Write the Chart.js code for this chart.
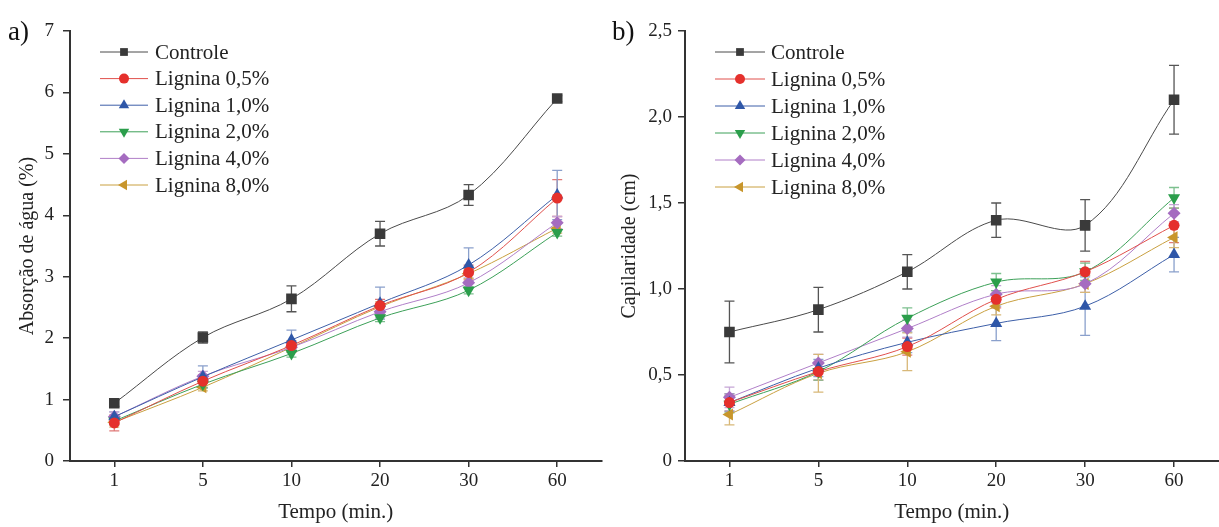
<!DOCTYPE html>
<html>
<head>
<meta charset="utf-8">
<script src="https://cdn.jsdelivr.net/npm/chart.js@4/dist/chart.umd.min.js"></script>
<style>
  html, body { margin: 0; padding: 0; background: #fff; overflow: hidden; }
  #wrap { position: relative; width: 1219px; height: 527px; overflow: hidden; }
  .box { position: absolute; top: 0; height: 527px; }
  #boxA { left: 0; width: 609px; }
  #boxB { left: 609px; width: 617px; }
</style>
</head>
<body>
<div id="wrap">
  <div class="box" id="boxA"><canvas id="chartA"></canvas></div>
  <div class="box" id="boxB"><canvas id="chartB"></canvas></div>
</div>
<script>
// categories (minutes)
const categories = ['1', '5', '10', '20', '30', '60'];
const seriesNames = ['Controle', 'Lignina 0,5%', 'Lignina 1,0%', 'Lignina 2,0%', 'Lignina 4,0%', 'Lignina 8,0%'];

// a) Absorção de água (%)
const absControle = [0.94, 2.01, 2.64, 3.70, 4.33, 5.90];
const abs05 = [0.62, 1.30, 1.88, 2.53, 3.07, 4.28];
const abs10 = [0.72, 1.37, 1.97, 2.57, 3.19, 4.33];
const abs20 = [0.65, 1.25, 1.75, 2.33, 2.78, 3.72];
const abs40 = [0.72, 1.38, 1.85, 2.43, 2.90, 3.88];
const abs80 = [0.63, 1.20, 1.85, 2.51, 3.05, 3.79];

const absControleErr = [0.05, 0.09, 0.21, 0.20, 0.17, 0.05];
const abs05Err = [0.13, 0.10, 0.08, 0.10, 0.12, 0.30];
const abs10Err = [0.08, 0.18, 0.16, 0.26, 0.28, 0.40];
const abs20Err = [0.06, 0.06, 0.06, 0.06, 0.06, 0.06];
const abs40Err = [0.08, 0.08, 0.08, 0.10, 0.08, 0.10];
const abs80Err = [0.08, 0.06, 0.08, 0.08, 0.08, 0.08];

// b) Capilaridade (cm)
const capControle = [0.75, 0.88, 1.10, 1.40, 1.37, 2.10];
const cap05 = [0.34, 0.52, 0.665, 0.94, 1.10, 1.37];
const cap10 = [0.34, 0.54, 0.69, 0.80, 0.90, 1.20];
const cap20 = [0.33, 0.52, 0.83, 1.04, 1.10, 1.53];
const cap40 = [0.37, 0.57, 0.77, 0.97, 1.03, 1.44];
const cap80 = [0.27, 0.51, 0.635, 0.90, 1.03, 1.30];

const capControleErr = [0.18, 0.13, 0.10, 0.10, 0.15, 0.20];
const cap05Err = [0.05, 0.05, 0.05, 0.05, 0.06, 0.10];
const cap10Err = [0.05, 0.05, 0.06, 0.10, 0.17, 0.10];
const cap20Err = [0.05, 0.05, 0.06, 0.05, 0.05, 0.06];
const cap40Err = [0.06, 0.05, 0.05, 0.05, 0.05, 0.05];
const cap80Err = [0.06, 0.11, 0.11, 0.05, 0.05, 0.06];

// tick labels
const absTicks = ['0', '1', '2', '3', '4', '5', '6', '7'];
const capTicks = ['0', '0,5', '1,0', '1,5', '2,0', '2,5'];

const FONT = "'Liberation Serif', 'Times New Roman', serif";

// marker look per series
const styles = [
  { color: '#3a3a3a', line: '#4a4a4a', err: '#555555', pointStyle: 'rect', radius: 7.5, rotation: 0, legendRadius: 5.5 },
  { color: '#e5302c', line: '#e0504c', err: '#e07a78', pointStyle: 'circle', radius: 5.5, rotation: 0, legendRadius: 5 },
  { color: '#2f57a8', line: '#3d5fa8', err: '#8aa0cc', pointStyle: 'triangle', radius: 7, rotation: 0, legendRadius: 6 },
  { color: '#2b9e4b', line: '#3ca058', err: '#7cc08e', pointStyle: 'triangle', radius: 7, rotation: 180, legendRadius: 6 },
  { color: '#a56cc0', line: '#b07fc8', err: '#c6a6d6', pointStyle: 'rectRot', radius: 6.5, rotation: 0, legendRadius: 5.5 },
  { color: '#c8962c', line: '#c9a040', err: '#d8b878', pointStyle: 'triangle', radius: 7, rotation: -90, legendRadius: 6 }
];

function makeDatasets(values, errs) {
  return values.map((v, i) => ({
    label: seriesNames[i],
    data: v,
    errors: errs[i],
    borderColor: styles[i].line,
    backgroundColor: styles[i].color,
    borderWidth: 1,
    tension: 0.35,
    pointStyle: styles[i].pointStyle,
    pointRotation: styles[i].rotation,
    pointRadius: styles[i].radius,
    pointBackgroundColor: styles[i].color,
    pointBorderWidth: 0,
    errColor: styles[i].err
  }));
}

// vertical error bars with caps, drawn under the lines
const errorBars = {
  id: 'errorBars',
  beforeDatasetsDraw(chart) {
    const { ctx, scales: { x, y } } = chart;
    ctx.save();
    chart.data.datasets.forEach(ds => {
      ctx.strokeStyle = ds.errColor;
      ctx.lineWidth = 1.3;
      ds.data.forEach((v, j) => {
        const e = ds.errors[j];
        const px = x.getPixelForValue(j);
        const top = y.getPixelForValue(v + e);
        const bot = y.getPixelForValue(v - e);
        ctx.beginPath();
        ctx.moveTo(px, top); ctx.lineTo(px, bot);
        ctx.moveTo(px - 5, top); ctx.lineTo(px + 5, top);
        ctx.moveTo(px - 5, bot); ctx.lineTo(px + 5, bot);
        ctx.stroke();
      });
    });
    ctx.restore();
  }
};

// legend with line through marker plus panel letter
const sideLegend = {
  id: 'sideLegend',
  afterDraw(chart, args, opts) {
    const { ctx } = chart;
    ctx.save();
    chart.data.datasets.forEach((ds, i) => {
      const yy = opts.y0 + i * opts.dy;
      const st = styles[i];
      ctx.strokeStyle = st.line;
      ctx.lineWidth = 1;
      ctx.beginPath();
      ctx.moveTo(opts.x0, yy); ctx.lineTo(opts.x1, yy);
      ctx.stroke();
      ctx.fillStyle = st.color;
      Chart.helpers.drawPoint(ctx, {
        pointStyle: st.pointStyle, rotation: st.rotation,
        radius: st.legendRadius, borderWidth: 0
      }, (opts.x0 + opts.x1) / 2, yy);
      ctx.fillStyle = '#222';
      ctx.font = '21px ' + FONT;
      ctx.textAlign = 'left';
      ctx.textBaseline = 'middle';
      ctx.fillText(ds.label, opts.tx, yy + 1);
    });
    ctx.fillStyle = '#111';
    ctx.font = '27px ' + FONT;
    ctx.textAlign = 'left';
    ctx.textBaseline = 'alphabetic';
    ctx.fillText(opts.panel, opts.px, 40);
    ctx.restore();
  }
};

function makeChart(id, values, errs, cfg) {
  return new Chart(document.getElementById(id), {
    type: 'line',
    data: { labels: categories, datasets: makeDatasets(values, errs) },
    plugins: [errorBars, sideLegend],
    options: {
      responsive: true,
      maintainAspectRatio: false,
      animation: false,
      layout: { padding: { top: 31, right: cfg.right, bottom: 0, left: 0 } },
      plugins: {
        legend: { display: false },
        tooltip: { enabled: false },
        sideLegend: cfg.legend
      },
      scales: {
        x: {
          type: 'category',
          offset: true,
          border: { color: '#333', width: 2 },
          grid: { display: true, drawOnChartArea: false, tickLength: 6, color: '#333', lineWidth: 1.5, offset: false },
          ticks: { color: '#222', font: { family: FONT, size: 19 }, padding: 3 },
          title: { display: true, text: 'Tempo (min.)', color: '#222', font: { family: FONT, size: 21 }, padding: { top: 0, bottom: 2 } },
          afterFit(s) { s.height = 66; }
        },
        y: {
          min: 0, max: cfg.max,
          border: { color: '#333', width: 2 },
          grid: { display: true, drawOnChartArea: false, tickLength: 7, color: '#333', lineWidth: 1.5 },
          ticks: {
            stepSize: cfg.step, color: '#222', font: { family: FONT, size: 19 }, padding: cfg.tickPad,
            callback: (v, i) => cfg.tickLabels[i]
          },
          title: { display: true, text: cfg.yTitle, color: '#222', font: { family: FONT, size: 20 }, padding: { top: cfg.titlePad, bottom: 0 } },
          afterFit(s) { s.width = cfg.yWidth; }
        }
      }
    }
  });
}

makeChart('chartA',
  [absControle, abs05, abs10, abs20, abs40, abs80],
  [absControleErr, abs05Err, abs10Err, abs20Err, abs40Err, abs80Err],
  { max: 7, step: 1, tickLabels: absTicks, yTitle: 'Absorção de água (%)', yWidth: 70, right: 6, tickPad: 9, titlePad: 16,
    legend: { x0: 100, x1: 148, tx: 155, y0: 52, dy: 26.6, panel: 'a)', px: 8 } });

makeChart('chartB',
  [capControle, cap05, cap10, cap20, cap40, cap80],
  [capControleErr, cap05Err, cap10Err, cap20Err, cap40Err, cap80Err],
  { max: 2.5, step: 0.5, tickLabels: capTicks, yTitle: 'Capilaridade (cm)', yWidth: 76, right: 0, tickPad: 6, titlePad: 9,
    legend: { x0: 106, x1: 156, tx: 162, y0: 52, dy: 27, panel: 'b)', px: 3 } });
</script>
</body>
</html>
